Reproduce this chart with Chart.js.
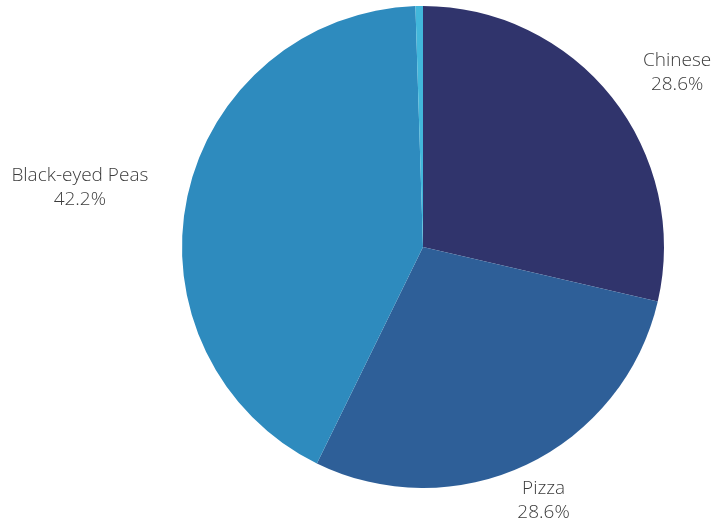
<!DOCTYPE html>
<html>
<head>
<meta charset="utf-8">
<script src="https://cdn.jsdelivr.net/npm/chart.js@4/dist/chart.umd.min.js"></script>
<style>
  html, body { margin: 0; padding: 0; background: #fff; }
  #wrap { width: 712px; height: 525px; }
</style>
</head>
<body>
<div id="wrap"><canvas id="pie"></canvas></div>
<script>
// data
const foods = ["Chinese", "Pizza", "Black-eyed Peas", ""];
const shares = [28.6, 28.6, 42.2, 0.5];
const sliceColors = ["#30346c", "#2e5f98", "#2e8bbe", "#42b7db"];

// labels outside the pie, no leader lines, lines centred inside their block
const outsideLabels = {
    id: "outsideLabels",
    afterDatasetsDraw(chart) {
        const ctx = chart.ctx;
        const meta = chart.getDatasetMeta(0);
        ctx.save();
        ctx.font = "300 19px 'Open Sans'";
        ctx.fillStyle = "#3c3c3c";
        ctx.textBaseline = "middle";
        ctx.textAlign = "center";
        meta.data.forEach((arc, i) => {
            if (!foods[i]) return;
            const lines = [foods[i], shares[i].toFixed(1) + "%"];
            const w = Math.max(...lines.map(t => ctx.measureText(t).width));
            const mid = (arc.startAngle + arc.endAngle) / 2;
            const r = arc.outerRadius + 40;
            let x = arc.x + Math.cos(mid) * r;
            const y = arc.y + Math.sin(mid) * r;
            const c = Math.cos(mid);
            if (c > 0.6) x += w / 2;
            else if (c < -0.6) x -= w / 2;
            ctx.fillText(lines[0], x, y - 12);
            ctx.fillText(lines[1], x, y + 12);
        });
        ctx.restore();
    }
};

new Chart(document.getElementById("pie"), {
    type: "pie",
    data: {
        labels: foods,
        datasets: [{
            data: shares,
            backgroundColor: sliceColors,
            borderWidth: 0
        }]
    },
    options: {
        responsive: true,
        maintainAspectRatio: false,
        animation: false,
        layout: { padding: { left: 182, right: 48, top: 6, bottom: 37 } },
        plugins: {
            legend: { display: false },
            tooltip: { enabled: false }
        }
    },
    plugins: [outsideLabels]
});
</script>
</body>
</html>
